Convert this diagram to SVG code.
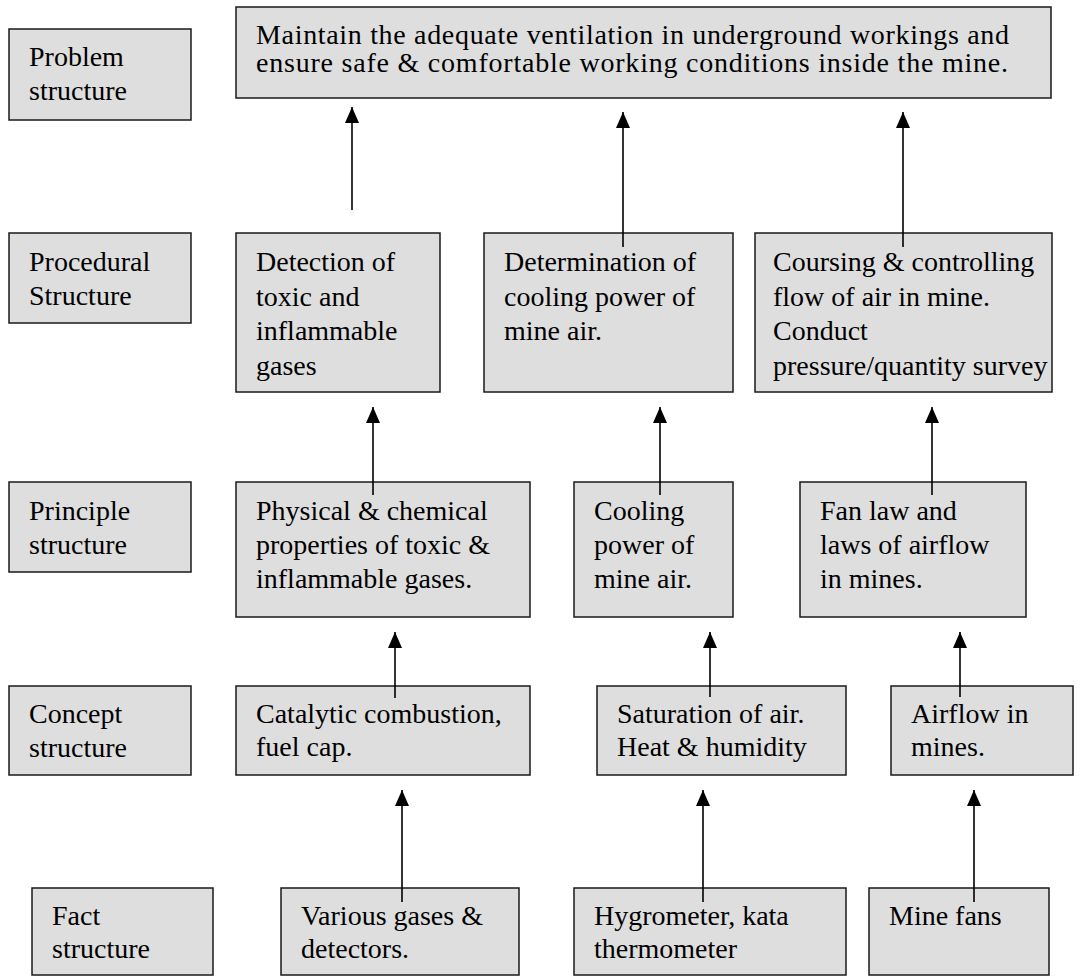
<svg xmlns="http://www.w3.org/2000/svg" width="1084" height="976" viewBox="0 0 1084 976">
  <defs>
    <style>
      .box { fill: #dedede; stroke: #1a1a1a; stroke-width: 1.5; }
      .txt { font-family: "Liberation Serif", "Times New Roman", serif; font-size: 28px; fill: #000; }
      .conn { stroke: #000; stroke-width: 1.6; fill: none; marker-end: url(#head); }
    </style>
    <marker id="head" viewBox="0 0 16 14" refX="16" refY="7" markerWidth="16" markerHeight="14" markerUnits="userSpaceOnUse" orient="auto">
      <path d="M0,0 L16,7 L0,14 z" fill="#000"/>
    </marker>
  </defs>
  <rect width="1084" height="976" fill="#fff"/>

  <!-- row labels -->
  <g id="label-problem">
    <rect class="box" x="9" y="29" width="182" height="91"/>
    <text class="txt" x="29" y="66"><tspan x="29">Problem</tspan><tspan x="29" dy="34">structure</tspan></text>
  </g>
  <g id="label-procedural">
    <rect class="box" x="9" y="233" width="182" height="90"/>
    <text class="txt" x="29" y="271"><tspan x="29">Procedural</tspan><tspan x="29" dy="34">Structure</tspan></text>
  </g>
  <g id="label-principle">
    <rect class="box" x="9" y="482" width="182" height="90"/>
    <text class="txt" x="29" y="520"><tspan x="29">Principle</tspan><tspan x="29" dy="34">structure</tspan></text>
  </g>
  <g id="label-concept">
    <rect class="box" x="9" y="686" width="182" height="89"/>
    <text class="txt" x="29" y="723"><tspan x="29">Concept</tspan><tspan x="29" dy="34">structure</tspan></text>
  </g>
  <g id="label-fact">
    <rect class="box" x="32" y="888" width="181" height="87"/>
    <text class="txt" x="52" y="925"><tspan x="52">Fact</tspan><tspan x="52" dy="33">structure</tspan></text>
  </g>

  <!-- problem level -->
  <g id="goal">
    <rect class="box" x="236" y="7" width="815" height="91"/>
    <text class="txt" x="256" y="44" textLength="753" lengthAdjust="spacing">Maintain the adequate ventilation in underground workings and</text>
    <text class="txt" x="256" y="72" textLength="752" lengthAdjust="spacing">ensure safe &amp; comfortable working conditions inside the mine.</text>
  </g>

  <!-- procedural level -->
  <g id="detection">
    <rect class="box" x="236" y="233" width="204" height="159"/>
    <text class="txt" x="256" y="271"><tspan x="256">Detection of</tspan><tspan x="256" dy="34.5">toxic and</tspan><tspan x="256" dy="34.5">inflammable</tspan><tspan x="256" dy="34.5">gases</tspan></text>
  </g>
  <g id="determination">
    <rect class="box" x="484" y="233" width="249" height="159"/>
    <text class="txt" x="504" y="271"><tspan x="504">Determination of</tspan><tspan x="504" dy="34.5">cooling power of</tspan><tspan x="504" dy="34.5">mine air.</tspan></text>
  </g>
  <g id="coursing">
    <rect class="box" x="755" y="233" width="297" height="159"/>
    <text class="txt" x="773" y="271"><tspan x="773">Coursing &amp; controlling</tspan><tspan x="773" dy="34.5">flow of air in mine.</tspan><tspan x="773" dy="34.5">Conduct</tspan><tspan x="773" dy="34.5">pressure/quantity survey</tspan></text>
  </g>

  <!-- principle level -->
  <g id="properties">
    <rect class="box" x="236" y="482" width="294" height="135"/>
    <text class="txt" x="256" y="520"><tspan x="256">Physical &amp; chemical</tspan><tspan x="256" dy="34">properties of toxic &amp;</tspan><tspan x="256" dy="34">inflammable gases.</tspan></text>
  </g>
  <g id="cooling-power">
    <rect class="box" x="574" y="482" width="159" height="135"/>
    <text class="txt" x="594" y="520"><tspan x="594">Cooling</tspan><tspan x="594" dy="34">power of</tspan><tspan x="594" dy="34">mine air.</tspan></text>
  </g>
  <g id="fan-law">
    <rect class="box" x="800" y="482" width="226" height="135"/>
    <text class="txt" x="820" y="520"><tspan x="820">Fan law and</tspan><tspan x="820" dy="34">laws of airflow</tspan><tspan x="820" dy="34">in mines.</tspan></text>
  </g>

  <!-- concept level -->
  <g id="catalytic">
    <rect class="box" x="236" y="686" width="294" height="89"/>
    <text class="txt" x="256" y="723"><tspan x="256">Catalytic combustion,</tspan><tspan x="256" dy="33">fuel cap.</tspan></text>
  </g>
  <g id="saturation">
    <rect class="box" x="597" y="686" width="249" height="89"/>
    <text class="txt" x="617" y="723"><tspan x="617">Saturation of air.</tspan><tspan x="617" dy="33">Heat &amp; humidity</tspan></text>
  </g>
  <g id="airflow">
    <rect class="box" x="891" y="686" width="182" height="89"/>
    <text class="txt" x="911" y="723"><tspan x="911">Airflow in</tspan><tspan x="911" dy="33">mines.</tspan></text>
  </g>

  <!-- fact level -->
  <g id="gases-detectors">
    <rect class="box" x="281" y="888" width="238" height="87"/>
    <text class="txt" x="301" y="925"><tspan x="301">Various gases &amp;</tspan><tspan x="301" dy="33">detectors.</tspan></text>
  </g>
  <g id="hygrometer">
    <rect class="box" x="574" y="888" width="272" height="87"/>
    <text class="txt" x="594" y="925"><tspan x="594">Hygrometer, kata</tspan><tspan x="594" dy="33">thermometer</tspan></text>
  </g>
  <g id="mine-fans">
    <rect class="box" x="869" y="888" width="180" height="87"/>
    <text class="txt" x="889" y="925">Mine fans</text>
  </g>

  <!-- upward connectors -->
  <g id="connectors">
    <line class="conn" x1="352" y1="210" x2="352" y2="107"/>
    <line class="conn" x1="623" y1="247" x2="623" y2="112"/>
    <line class="conn" x1="903" y1="247" x2="903" y2="112"/>
    <line class="conn" x1="373" y1="495" x2="373" y2="407"/>
    <line class="conn" x1="660" y1="495" x2="660" y2="407"/>
    <line class="conn" x1="932" y1="495" x2="932" y2="407"/>
    <line class="conn" x1="395" y1="698" x2="395" y2="632"/>
    <line class="conn" x1="710" y1="697" x2="710" y2="632"/>
    <line class="conn" x1="960" y1="697" x2="960" y2="632"/>
    <line class="conn" x1="402" y1="902" x2="402" y2="790"/>
    <line class="conn" x1="703" y1="902" x2="703" y2="790"/>
    <line class="conn" x1="974" y1="902" x2="974" y2="790"/>
  </g>
</svg>
